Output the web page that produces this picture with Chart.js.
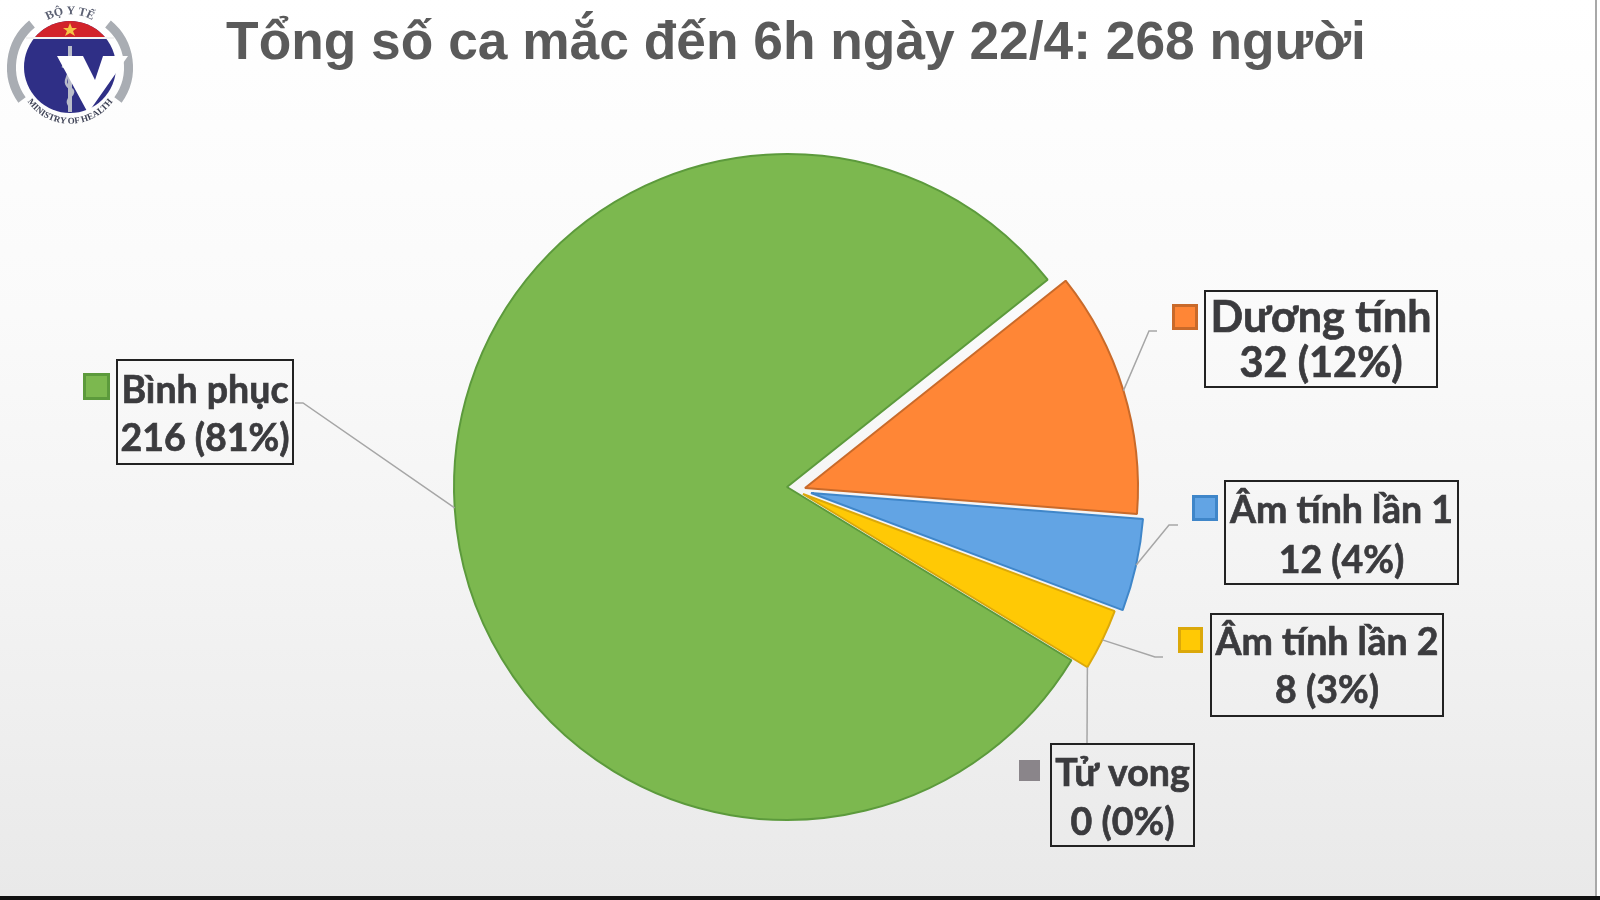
<!DOCTYPE html>
<html lang="vi">
<head>
    <meta charset="UTF-8">
    <title>Tổng số ca mắc</title>
    <script src="https://cdnjs.cloudflare.com/ajax/libs/Chart.js/4.4.1/chart.umd.min.js"></script>
    <style>
        html, body { margin: 0; padding: 0; background: #fff; overflow: hidden; }
        #panel { position: absolute; left: 0; top: 0; width: 1595px; height: 896px; border-right: 2px solid #a8a8a8;
                 background: linear-gradient(#ffffff 0%, #fafafa 35%, #f3f3f3 65%, #e9e9e9 100%); }
        #bottomBar { position: absolute; left: 0; top: 896px; width: 1600px; height: 4px; background: #111; }
        h1 { position: absolute; left: 0; top: 10px; width: 1592px; margin: 0; text-align: center;
             font: bold 53.3px "Liberation Sans", Arial, sans-serif; color: #5a5a5a; white-space: nowrap; }
        canvas { position: absolute; left: 0; top: 0; }
        #logo { position: absolute; left: 0; top: 0; }
    </style>
</head>
<body>
    <div id="panel"></div>
    <div id="bottomBar"></div>
    <h1>Tổng số ca mắc đến 6h ngày 22/4: 268 người</h1>
    <canvas id="pieChart" width="1600" height="900"></canvas>
    <svg id="logo" width="140" height="135" viewBox="0 0 140 135">
        <defs>
            <path id="topArc" d="M 26 47 A 46 46 0 0 1 114 47"/>
            <path id="bottomArc" d="M 24 96 A 52 52 0 0 0 116 96"/>
            <clipPath id="redClip"><rect x="0" y="0" width="140" height="38"/></clipPath>
        </defs>
        <path d="M 22 100 A 56 56 0 0 1 32 24" fill="none" stroke="#a9adb3" stroke-width="9"/>
        <path d="M 118 100 A 56 56 0 0 0 108 24" fill="none" stroke="#a9adb3" stroke-width="9"/>
        <circle cx="70" cy="67" r="46" fill="#2f2f86"/>
        <circle cx="70" cy="67" r="46" fill="#d2232a" clip-path="url(#redClip)"/>
        <rect x="26" y="37" width="88" height="2" fill="#f2f2f2"/>
        <polygon points="70,23 72,28 77,28 73,31 75,36 70,33 65,36 67,31 63,28 68,28" fill="#f6c445"/>
        <rect x="68" y="46" width="4" height="66" fill="#b9bcc9"/>
        <path d="M 62 66 C 78 72 58 80 70 88 C 80 94 62 98 70 106" fill="none" stroke="#b9bcc9" stroke-width="2.5"/>
        <text font-family="Liberation Serif" font-size="12" font-weight="bold" fill="#5c6173"><textPath href="#topArc" startOffset="50%" text-anchor="middle">BỘ Y TẾ</textPath></text>
        <text font-family="Liberation Serif" font-size="9" font-weight="bold" fill="#3f4356"><textPath href="#bottomArc" startOffset="50%" text-anchor="middle">MINISTRY OF HEALTH</textPath></text>
        <polygon points="57,56 83,56 95,80 103,56 128,56 88,113" fill="#fff"/>
    </svg>

    <script>
        const categories = ['Dương tính', 'Âm tính lần 1', 'Âm tính lần 2', 'Tử vong', 'Bình phục'];
        const cases = [32, 12, 8, 0, 216];
        const percents = [12, 4, 3, 0, 81];

        const fillColors = ['#ff8636', '#62a4e4', '#ffc905', '#8a858a', '#7cb84f'];
        const edgeColors = ['#c96a2a', '#3f86c9', '#dba80a', '#8a858a', '#5c9a3c'];
        // how far each slice is pulled out of the pie, in pixels
        const sliceShifts = [[18, 1], [24, 6], [16, 7], [16, 7], [0, 0]];

        // label box, swatch and leader elbow per slice, in page pixels
        const labelLayout = [
            { box: [1205, 291, 232, 96],  swatch: [1172, 304, 26, 26], base: [332, 377], size: [43, 41.5], elbow: [[1149, 331], [1157, 331]] },
            { box: [1225, 481, 233, 103], swatch: [1192, 495, 26, 26], base: [523, 573], size: [37.5, 37.5], elbow: [[1169, 525], [1178, 525]] },
            { box: [1211, 614, 232, 102], swatch: [1178, 627, 25, 26], base: [655, 703], size: [37.5, 37.5], elbow: [[1155, 657], [1163, 657]] },
            { box: [1051, 744, 143, 102], swatch: [1019, 760, 21, 21], base: [786, 835], size: [37.5, 37.5], elbow: [[1087, 744]] },
            { box: [117, 360, 176, 104],  swatch: [83, 373, 27, 27],   base: [403, 451], size: [37.5, 37.5], elbow: [[303, 403], [295, 403]] }
        ];

        function drawLine(ctx, text, x, y, size) {
            ctx.font = 'bold ' + size + 'px Lato, "Open Sans", sans-serif';
            ctx.fillText(text, x, y);
            ctx.strokeText(text, x, y);
        }

        const calloutPlugin = {
            id: 'callouts',
            beforeDatasetsDraw(chart) {
                const area = chart.chartArea;
                chart.getDatasetMeta(0).data.forEach((arc, i) => {
                    arc.x = (area.left + area.right) / 2 + sliceShifts[i][0];
                    arc.y = (area.top + area.bottom) / 2 + sliceShifts[i][1];
                });
            },
            afterDatasetsDraw(chart) {
                const ctx = chart.ctx;
                const arcs = chart.getDatasetMeta(0).data;
                ctx.save();
                labelLayout.forEach((item, i) => {
                    const arc = arcs[i];
                    const mid = (arc.startAngle + arc.endAngle) / 2;
                    // leader runs from the rim of the slice to the label
                    ctx.beginPath();
                    ctx.moveTo(arc.x + Math.cos(mid) * arc.outerRadius, arc.y + Math.sin(mid) * arc.outerRadius);
                    item.elbow.forEach(p => ctx.lineTo(p[0], p[1]));
                    ctx.strokeStyle = '#a6a6a6';
                    ctx.lineWidth = 1.5;
                    ctx.stroke();

                    ctx.strokeStyle = '#222';
                    ctx.lineWidth = 2;
                    ctx.strokeRect(item.box[0], item.box[1], item.box[2], item.box[3]);

                    ctx.fillStyle = fillColors[i];
                    ctx.fillRect(item.swatch[0], item.swatch[1], item.swatch[2], item.swatch[3]);
                    ctx.strokeStyle = edgeColors[i];
                    ctx.lineWidth = 3;
                    ctx.strokeRect(item.swatch[0] + 1.5, item.swatch[1] + 1.5, item.swatch[2] - 3, item.swatch[3] - 3);

                    ctx.fillStyle = '#3b3b3e';
                    ctx.strokeStyle = '#3b3b3e';
                    ctx.lineWidth = 0.7;
                    ctx.textAlign = 'center';
                    ctx.textBaseline = 'alphabetic';
                    const cx = item.box[0] + item.box[2] / 2;
                    drawLine(ctx, categories[i], cx, item.base[0], item.size[0]);
                    drawLine(ctx, cases[i] + ' (' + percents[i] + '%)', cx, item.base[1], item.size[1]);
                });
                ctx.restore();
            }
        };

        new Chart(document.getElementById('pieChart').getContext('2d'), {
            type: 'pie',
            data: {
                labels: categories,
                datasets: [{
                    data: cases,
                    backgroundColor: fillColors,
                    borderColor: edgeColors,
                    borderWidth: cases.map(v => v > 0 ? 2 : 0)
                }]
            },
            options: {
                responsive: false,
                animation: false,
                rotation: 51.5,
                radius: 333,
                layout: { padding: { left: 0, right: 26, top: 74, bottom: 0 } },
                plugins: { legend: { display: false }, tooltip: { enabled: false } }
            },
            plugins: [calloutPlugin]
        });
    </script>
</body>
</html>
